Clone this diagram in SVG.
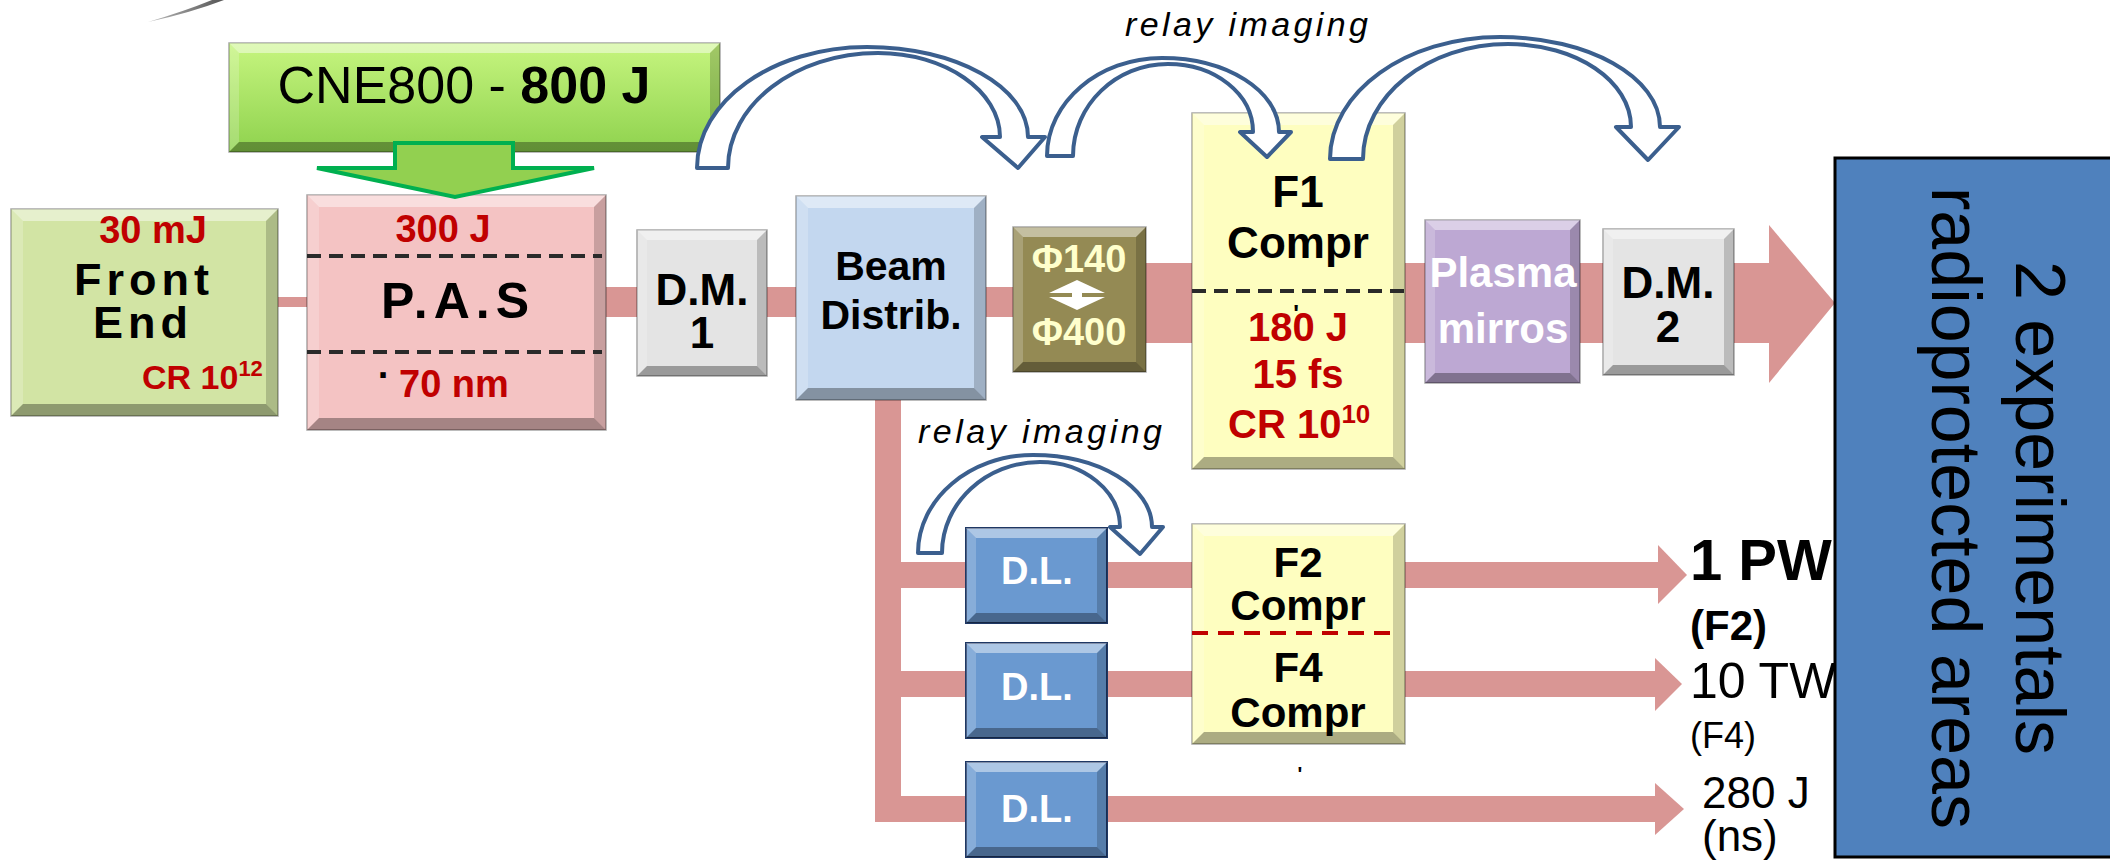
<svg xmlns="http://www.w3.org/2000/svg" width="2110" height="861" viewBox="0 0 2110 861">
<defs>
<linearGradient id="gGreen" x1="0" y1="0" x2="0" y2="1"><stop offset="0" stop-color="#c6f57f"/><stop offset="1" stop-color="#8fd24e"/></linearGradient>
<linearGradient id="gSwoosh" x1="0" y1="0" x2="1" y2="0"><stop offset="0" stop-color="#bbb"/><stop offset="1" stop-color="#555"/></linearGradient>
</defs>
<style>
text{font-family:"Liberation Sans",Arial,sans-serif;fill:#000}
.b{font-weight:bold}
.m{text-anchor:middle}
.red{fill:#c00000}
.wt{fill:#fff}
.bt{fill:#fff;fill-opacity:.45}
.bl{fill:#fff;fill-opacity:.2}
.br{fill:#000;fill-opacity:.18}
.bb{fill:#000;fill-opacity:.32}
.edge{stroke:#000;stroke-opacity:.35;stroke-width:1.5}
.dl{fill:#6a99d0;stroke:#1f3864;stroke-width:2}
.beam{fill:#d99694}
.arc{fill:#fff;stroke:#3b5f8e;stroke-width:4;stroke-linejoin:round}
.dash{stroke:#2a2a2a;stroke-width:4;stroke-dasharray:14 8;fill:none}
.relay{font-style:italic;font-size:34px}
</style>

<path d="M148,22 Q185,11 212,0 L224,0 Q190,13 148,22 Z" fill="url(#gSwoosh)"/>

<g id="connectors">
<rect class="beam" x="270" y="297" width="45" height="10"/>
<rect class="beam" x="600" y="287" width="420" height="30"/>
<rect class="beam" x="1140" y="263" width="630" height="80"/>
<polygon class="beam" points="1769,225 1835,303 1769,383"/>
<rect class="beam" x="875" y="395" width="26" height="427"/>
<rect class="beam" x="875" y="562" width="784" height="26"/>
<polygon class="beam" points="1658,545 1687,575 1658,604"/>
<rect class="beam" x="875" y="671" width="781" height="26"/>
<polygon class="beam" points="1655,658 1682,684 1655,711"/>
<rect class="beam" x="875" y="796" width="781" height="26"/>
<polygon class="beam" points="1655,783 1684,809 1655,835"/>
</g>

<g id="cne800">
<rect class="edge" x="229" y="43" width="491" height="109" fill="url(#gGreen)"/>
<polygon class="bt" points="229,43 720,43 710,53 239,53"/>
<polygon class="bl" points="229,43 239,53 239,142 229,152"/>
<polygon class="br" points="720,43 720,152 710,142 710,53"/>
<polygon class="bb" points="229,152 720,152 710,142 239,142"/>
<text class="m" x="464" y="103" font-size="52">CNE800 - <tspan class="b">800 J</tspan></text>
</g>

<g id="front-end">
<rect class="edge" x="11" y="209" width="267" height="207" fill="#d2e4a4"/>
<polygon class="bt" points="11,209 278,209 266,221 23,221"/>
<polygon class="bl" points="11,209 23,221 23,404 11,416"/>
<polygon class="br" points="278,209 278,416 266,404 266,221"/>
<polygon class="bb" points="11,416 278,416 266,404 23,404"/>
<text class="b m red" x="153" y="243" font-size="38">30 mJ</text>
<text class="b m" x="144" y="295" font-size="45" letter-spacing="5">Front</text>
<text class="b m" x="143" y="338" font-size="45" letter-spacing="5">End</text>
<text class="b red" x="142" y="389" font-size="34">CR 10<tspan font-size="22" dy="-13">12</tspan></text>
</g>

<g id="pas">
<rect class="edge" x="307" y="195" width="299" height="235" fill="#f4c3c3"/>
<polygon class="bt" points="307,195 606,195 594,207 319,207"/>
<polygon class="bl" points="307,195 319,207 319,418 307,430"/>
<polygon class="br" points="606,195 606,430 594,418 594,207"/>
<polygon class="bb" points="307,430 606,430 594,418 319,418"/>
<line class="dash" x1="307" y1="256" x2="602" y2="256"/>
<line class="dash" x1="307" y1="352" x2="602" y2="352"/>
<text class="b m red" x="443" y="242" font-size="38">300 J</text>
<text class="b m" x="458" y="318" font-size="50" letter-spacing="6">P.A.S</text>
<text class="b m" x="384" y="388" font-size="38">·</text>
<text class="b red" x="399" y="397" font-size="38">70 nm</text>
</g>

<g id="dm1">
<rect class="edge" x="637" y="230" width="130" height="146" fill="#e4e4e4"/>
<polygon class="bt" points="637,230 767,230 757,240 647,240"/>
<polygon class="bl" points="637,230 647,240 647,366 637,376"/>
<polygon class="br" points="767,230 767,376 757,366 757,240"/>
<polygon class="bb" points="637,376 767,376 757,366 647,366"/>
<text class="b m" x="702" y="305" font-size="44">D.M.</text>
<text class="b m" x="702" y="348" font-size="44">1</text>
</g>

<g id="beam-distrib">
<rect class="edge" x="796" y="196" width="190" height="204" fill="#c3d7ef"/>
<polygon class="bt" points="796,196 986,196 974,208 808,208"/>
<polygon class="bl" points="796,196 808,208 808,388 796,400"/>
<polygon class="br" points="986,196 986,400 974,388 974,208"/>
<polygon class="bb" points="796,400 986,400 974,388 808,388"/>
<text class="b m" x="891" y="280" font-size="41">Beam</text>
<text class="b m" x="891" y="329" font-size="41">Distrib.</text>
</g>

<g id="phi">
<rect class="edge" x="1013" y="227" width="133" height="145" fill="#948a54"/>
<polygon class="bt" points="1013,227 1146,227 1136,237 1023,237"/>
<polygon class="bl" points="1013,227 1023,237 1023,362 1013,372"/>
<polygon class="br" points="1146,227 1146,372 1136,362 1136,237"/>
<polygon class="bb" points="1013,372 1146,372 1136,362 1023,362"/>
<text class="b m" x="1079" y="272" font-size="38" style="fill:#ffffcc">Φ140</text>
<polygon points="1077,280 1105,293 1082,293 1082,297 1105,297 1077,310 1049,297 1072,297 1072,293 1049,293" fill="#fff"/>
<text class="b m" x="1079" y="345" font-size="38" style="fill:#ffffcc">Φ400</text>
</g>

<g id="f1-compr">
<rect class="edge" x="1192" y="113" width="213" height="356" fill="#fefec0"/>
<polygon class="bt" points="1192,113 1405,113 1393,125 1204,125"/>
<polygon class="bl" points="1192,113 1204,125 1204,457 1192,469"/>
<polygon class="br" points="1405,113 1405,469 1393,457 1393,125"/>
<polygon class="bb" points="1192,469 1405,469 1393,457 1204,457"/>
<text class="b m" x="1298" y="207" font-size="44">F1</text>
<text class="b m" x="1298" y="258" font-size="44">Compr</text>
<line class="dash" x1="1192" y1="291" x2="1405" y2="291"/>
<text class="b m" x="1296" y="322" font-size="24">'</text>
<text class="b m red" x="1298" y="341" font-size="40">180 J</text>
<text class="b m red" x="1298" y="388" font-size="40">15 fs</text>
<text class="b red" x="1228" y="438" font-size="40">CR 10<tspan font-size="26" dy="-15">10</tspan></text>
</g>

<g id="plasma-mirrors">
<rect class="edge" x="1425" y="220" width="155" height="163" fill="#bda8d3"/>
<polygon class="bt" points="1425,220 1580,220 1570,230 1435,230"/>
<polygon class="bl" points="1425,220 1435,230 1435,373 1425,383"/>
<polygon class="br" points="1580,220 1580,383 1570,373 1570,230"/>
<polygon class="bb" points="1425,383 1580,383 1570,373 1435,373"/>
<text class="b m wt" x="1503" y="287" font-size="42">Plasma</text>
<text class="b m wt" x="1503" y="343" font-size="42">mirros</text>
</g>

<g id="dm2">
<rect class="edge" x="1603" y="229" width="131" height="146" fill="#e4e4e4"/>
<polygon class="bt" points="1603,229 1734,229 1724,239 1613,239"/>
<polygon class="bl" points="1603,229 1613,239 1613,365 1603,375"/>
<polygon class="br" points="1734,229 1734,375 1724,365 1724,239"/>
<polygon class="bb" points="1603,375 1734,375 1724,365 1613,365"/>
<text class="b m" x="1668" y="298" font-size="44">D.M.</text>
<text class="b m" x="1668" y="342" font-size="44">2</text>
</g>

<g id="dl1">
<rect class="dl" x="966" y="528" width="141" height="95"/>
<polygon class="bt" points="966,528 1107,528 1097,538 976,538"/>
<polygon class="bl" points="966,528 976,538 976,613 966,623"/>
<polygon class="br" points="1107,528 1107,623 1097,613 1097,538"/>
<polygon class="bb" points="966,623 1107,623 1097,613 976,613"/>
<text class="b m wt" x="1037" y="584" font-size="38">D.L.</text>
</g>
<g id="dl2">
<rect class="dl" x="966" y="643" width="141" height="95"/>
<polygon class="bt" points="966,643 1107,643 1097,653 976,653"/>
<polygon class="bl" points="966,643 976,653 976,728 966,738"/>
<polygon class="br" points="1107,643 1107,738 1097,728 1097,653"/>
<polygon class="bb" points="966,738 1107,738 1097,728 976,728"/>
<text class="b m wt" x="1037" y="700" font-size="38">D.L.</text>
</g>
<g id="dl3">
<rect class="dl" x="966" y="762" width="141" height="95"/>
<polygon class="bt" points="966,762 1107,762 1097,772 976,772"/>
<polygon class="bl" points="966,762 976,772 976,847 966,857"/>
<polygon class="br" points="1107,762 1107,857 1097,847 1097,772"/>
<polygon class="bb" points="966,857 1107,857 1097,847 976,847"/>
<text class="b m wt" x="1037" y="822" font-size="38">D.L.</text>
</g>

<g id="f2-f4-compr">
<rect class="edge" x="1192" y="524" width="213" height="220" fill="#fefec0"/>
<polygon class="bt" points="1192,524 1405,524 1393,536 1204,536"/>
<polygon class="bl" points="1192,524 1204,536 1204,732 1192,744"/>
<polygon class="br" points="1405,524 1405,744 1393,732 1393,536"/>
<polygon class="bb" points="1192,744 1405,744 1393,732 1204,732"/>
<text class="b m" x="1298" y="577" font-size="42">F2</text>
<text class="b m" x="1298" y="620" font-size="42">Compr</text>
<line x1="1192" y1="633" x2="1398" y2="633" stroke="#c00000" stroke-width="4" stroke-dasharray="16 10"/>
<text class="b m" x="1298" y="682" font-size="42">F4</text>
<text class="b m" x="1298" y="727" font-size="42">Compr</text>
<text class="b m" x="1300" y="781" font-size="20">'</text>
</g>

<g id="outputs">
<text class="b" x="1690" y="580" font-size="58">1 PW</text>
<text class="b" x="1690" y="640" font-size="42">(F2)</text>
<text x="1690" y="698" font-size="50">10 TW</text>
<text x="1690" y="748" font-size="36">(F4)</text>
<text x="1702" y="808" font-size="44">280 J</text>
<text x="1702" y="851" font-size="44">(ns)</text>
</g>

<g id="experimental-areas">
<rect x="1835" y="158" width="300" height="699" fill="#4f81bd" stroke="#000" stroke-width="3"/>
<g transform="translate(2016,508) rotate(90)">
<text class="m" x="0" y="0" font-size="70">2 experimentals</text>
<text class="m" x="0" y="84" font-size="70">radioprotected areas</text>
</g>
</g>

<g id="cne800-arrow">
<polygon points="395,143 513,143 513,168 594,168 455,197 317,168 395,168" fill="#92d050" stroke="#00b050" stroke-width="4" stroke-linejoin="miter"/>
</g>

<g id="relay-arrows">
<path class="arc" d="M697,168 C697,101 773,47 867,47 C956,47 1028,87 1028,137 L1045,137 L1018,168 L982,137 L1000,137 C1000,91 945,53 878,53 C795,53 728,105 728,168 Z"/>
<path class="arc" d="M1047,156 C1047,102 1099,58 1162,58 C1227,58 1279,91 1279,132 L1291,132 L1267,157 L1240,132 L1253,132 C1253,94 1215,64 1168,64 C1116,64 1073,105 1073,156 Z"/>
<path class="arc" d="M1330,159 C1330,92 1406,37 1500,37 C1588,37 1660,77 1660,127 L1679,127 L1648,160 L1616,127 L1631,127 C1631,81 1576,44 1508,44 C1428,44 1363,96 1363,159 Z"/>
<path class="arc" d="M918,553 C918,499 970,455 1033,455 C1099,455 1152,487 1152,527 L1163,527 L1140,554 L1110,527 L1120,527 C1120,491 1084,462 1040,462 C986,462 942,503 942,553 Z"/>
<text class="relay" x="1125" y="36" textLength="243" lengthAdjust="spacing">relay imaging</text>
<text class="relay" x="918" y="443" textLength="244" lengthAdjust="spacing">relay imaging</text>
</g>
</svg>
